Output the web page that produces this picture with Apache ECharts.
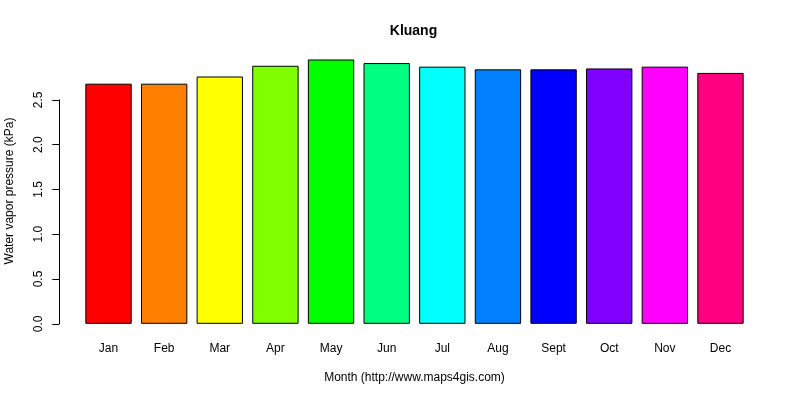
<!DOCTYPE html>
<html>
<head>
<meta charset="utf-8">
<script src="https://cdn.jsdelivr.net/npm/echarts@6/dist/echarts.min.js"></script>
<style>
html,body{margin:0;padding:0;background:#fff;}
#chart{width:800px;height:400px;}
</style>
</head>
<body>
<div id="chart"></div>
<script>
var months = ['Jan','Feb','Mar','Apr','May','Jun','Jul','Aug','Sept','Oct','Nov','Dec'];
var vaporPressure = [2.68, 2.68, 2.76, 2.88, 2.95, 2.91, 2.87, 2.84, 2.84, 2.85, 2.87, 2.80];
var barColors = ['#FF0000','#FF8000','#FFFF00','#80FF00','#00FF00','#00FF80','#00FFFF','#0080FF','#0000FF','#8000FF','#FF00FF','#FF0080'];
var yTicks = [0, 0.5, 1, 1.5, 2, 2.5];
var chartTitle = 'Kluang';
var xTitle = 'Month (http://www.maps4gis.com)';
var yTitle = 'Water vapor pressure (kPa)';

var FONT = 'Liberation Sans, Arial, sans-serif';
var chart = echarts.init(document.getElementById('chart'), null, {renderer:'canvas'});

var gridLeft = 80.7, gridRight = 51.7, gridBottom = 76.2;
var option = {
  animation: false,
  backgroundColor: '#fff',
  textStyle: {fontFamily: FONT},
  grid: [
    {left: gridLeft, right: gridRight, top: 55, bottom: gridBottom},
    {left: gridLeft, right: gridRight, top: 99.8, bottom: gridBottom}
  ],
  xAxis: [
    {type:'category', gridIndex:0, data: months,
     axisLine:{show:false}, axisTick:{show:false}, splitLine:{show:false},
     axisLabel:{color:'#000', fontSize:12, fontFamily:FONT, margin:19, interval:0}},
    {type:'category', gridIndex:1, data: months, show:false}
  ],
  yAxis: [
    {type:'value', gridIndex:0, min:0, max:3, show:false, splitLine:{show:false}},
    {type:'value', gridIndex:1, min:yTicks[0], max:yTicks[yTicks.length-1], interval:0.5,
     offset: gridLeft - 59.3,
     axisLine:{show:true, lineStyle:{color:'#000', width:1}},
     axisTick:{show:true, length:7, lineStyle:{color:'#000', width:1}},
     splitLine:{show:false},
     axisLabel:{color:'#000', fontSize:12, fontFamily:FONT, rotate:90, margin:15,
       formatter:function(v){return v.toFixed(1);}}}
  ],
  series: [{
    type:'bar', xAxisIndex:0, yAxisIndex:0,
    barWidth:'83.33%',
    data: vaporPressure.map(function(v,i){
      return {value:v, itemStyle:{color:barColors[i], borderColor:'#000', borderWidth:1}};
    })
  }],
  graphic: [
    {type:'text', x:413.5, y:31.5, style:{text:chartTitle, font:'bold 14px '+FONT, fill:'#000', align:'center', verticalAlign:'middle'}},
    {type:'text', x:414.5, y:378, style:{text:xTitle, font:'12px '+FONT, fill:'#000', align:'center', verticalAlign:'middle'}},
    {type:'text', x:10, y:191, rotation:Math.PI/2, style:{text:yTitle, font:'12px '+FONT, fill:'#000', align:'center', verticalAlign:'middle'}}
  ]
};
chart.setOption(option);
</script>
</body>
</html>
